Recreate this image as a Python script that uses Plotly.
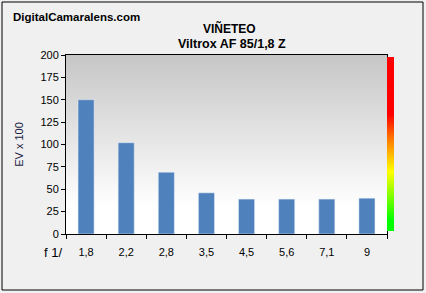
import plotly.graph_objects as go
import base64

categories = ["1,8", "2,2", "2,8", "3,5", "4,5", "5,6", "7,1", "9"]
values = [150, 102, 69, 46, 39, 39, 39, 40]
y_ticks = [0, 25, 50, 75, 100, 125, 150, 175, 200]

W, H = 426, 293
L, R, T, B = 66, 39, 55, 59
pw, ph = W - L - R, H - T - B

def px_x(p):
    return (p - L) / pw

def px_y(p):
    return (H - B - p) / ph

svg = ('<svg xmlns="http://www.w3.org/2000/svg" width="100" height="100" preserveAspectRatio="none">'
       '<defs><linearGradient id="g" x1="0" y1="0" x2="0" y2="1">'
       '<stop offset="0" stop-color="#c6c6c6"/><stop offset="0.85" stop-color="#ffffff"/>'
       '<stop offset="1" stop-color="#ffffff"/></linearGradient></defs>'
       '<rect width="100" height="100" fill="url(#g)"/></svg>')
src = "data:image/svg+xml;base64," + base64.b64encode(svg.encode()).decode()

fig = go.Figure()
fig.add_trace(go.Bar(x=categories, y=values, marker_color="#4f81bd", width=0.4,
                     showlegend=False, hoverinfo="skip"))
fig.add_trace(go.Scatter(
    x=[None], y=[None], mode="markers", showlegend=False, hoverinfo="skip",
    marker=dict(color=[0], cmin=0, cmax=1, showscale=True,
                colorscale=[[0, "#00ff00"], [0.06, "#00ff00"], [0.34, "#ffff00"],
                            [0.52, "#ff8000"], [0.67, "#ff0000"], [1, "#ff0000"]],
                colorbar=dict(thickness=7, lenmode="pixels", len=174,
                              x=px_x(387), xanchor="left", xpad=0,
                              y=px_y(231), yanchor="bottom", ypad=0,
                              outlinewidth=0, showticklabels=False, ticks=""))))

fig.update_layout(
    width=W, height=H,
    margin=dict(l=L, r=R, t=T, b=B, pad=0),
    paper_bgcolor="#f0f0f0",
    plot_bgcolor="rgba(0,0,0,0)",
    font=dict(family="Liberation Sans, Arial", size=11, color="#000000"),
    images=[dict(source=src, xref="paper", yref="paper", x=0, y=1, sizex=1, sizey=1,
                 sizing="stretch", xanchor="left", yanchor="top", layer="below")],
    shapes=[dict(type="rect", xref="paper", yref="paper",
                 x0=px_x(2), x1=px_x(423), y0=px_y(290), y1=px_y(2),
                 line=dict(color="#000000", width=1), fillcolor="rgba(0,0,0,0)")],
    annotations=[
        dict(text="DigitalCamaralens.com", xref="paper", yref="paper",
             x=px_x(11), y=px_y(17), xanchor="left", yanchor="middle", showarrow=False,
             font=dict(family="Liberation Sans", size=11.5, color="#000000", weight="bold")),
        dict(text="<b>VIÑETEO</b>", xref="paper", yref="paper",
             x=px_x(230), y=px_y(28), xanchor="center", yanchor="middle", showarrow=False,
             font=dict(size=12, color="#000000")),
        dict(text="<b>Viltrox AF 85/1,8 Z</b>", xref="paper", yref="paper",
             x=px_x(232), y=px_y(44), xanchor="center", yanchor="middle", showarrow=False,
             font=dict(size=12.5, color="#000000")),
        dict(text="f 1/", xref="paper", yref="paper",
             x=px_x(64), y=px_y(252), xanchor="right", yanchor="middle", showarrow=False,
             font=dict(size=13, color="#000000")),
    ],
    bargap=0.6,
)
fig.update_xaxes(showline=True, linecolor="#000000", linewidth=1, mirror=True,
                 ticks="outside", ticklen=4, tickcolor="#000000", tickson="boundaries",
                 showgrid=False, tickfont=dict(size=11), ticklabelstandoff=8)
fig.update_yaxes(range=[0, 200], tickvals=y_ticks, showline=True, linecolor="#000000",
                 linewidth=1, mirror=True, ticks="outside", ticklen=4, tickcolor="#000000",
                 showgrid=False, zeroline=False, tickfont=dict(size=11),
                 title=dict(text="EV x 100", font=dict(size=11, color="#1a1a40"), standoff=14))

fig.write_html("out.html")
